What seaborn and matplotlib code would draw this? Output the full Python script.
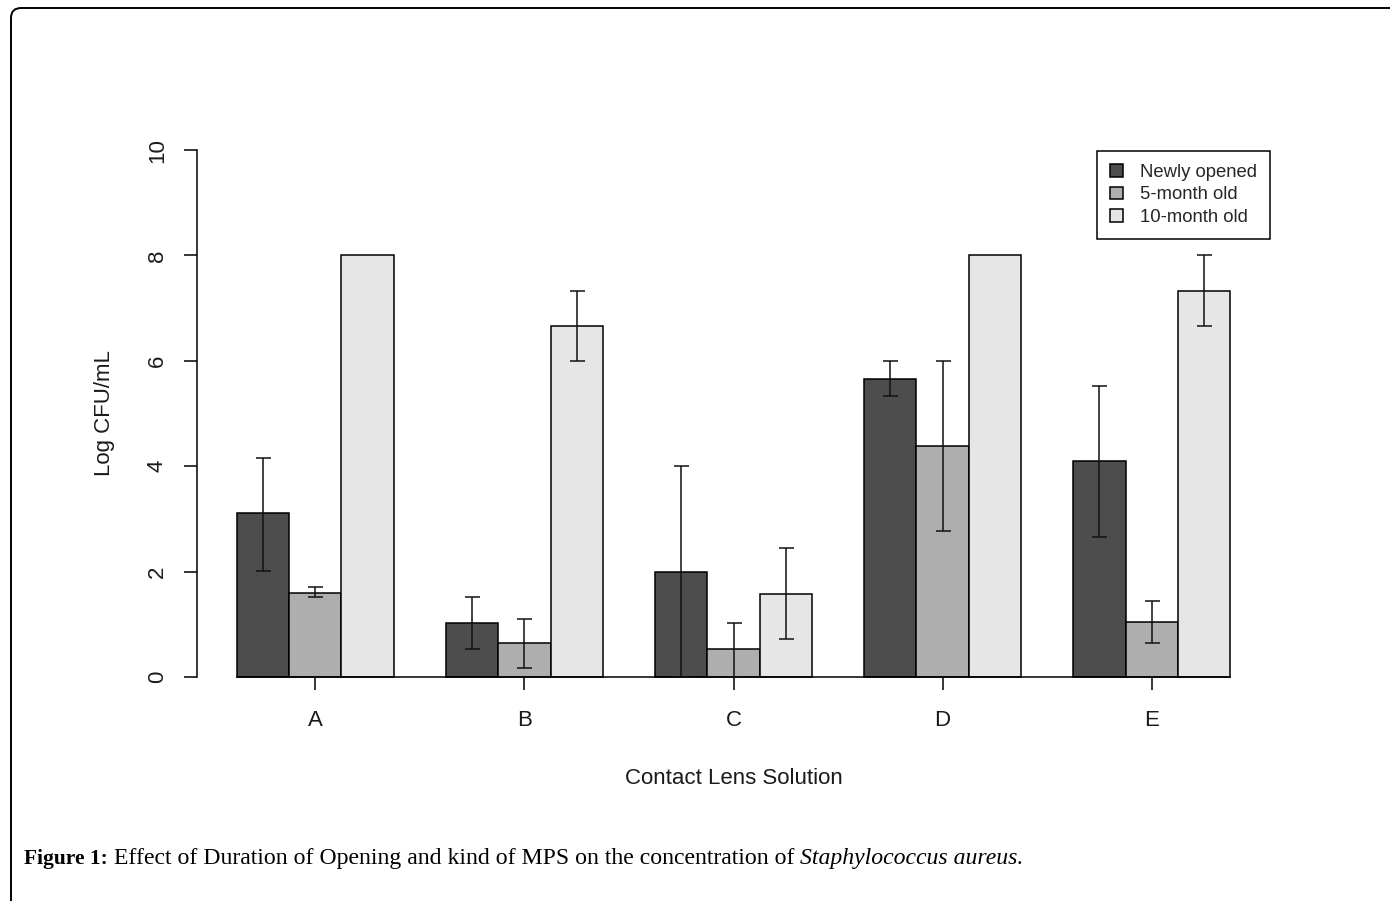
import numpy as np
import pandas as pd
import seaborn as sns
import matplotlib.pyplot as plt
from matplotlib.patches import FancyBboxPatch
from matplotlib.transforms import IdentityTransform

solutions = ["A", "B", "C", "D", "E"]
ages = ["Newly opened", "5-month old", "10-month old"]
colors = ["#4D4D4D", "#AEAEAE", "#E6E6E6"]

newly = [3.11, 1.02, 1.99, 5.65, 4.10]
newly_lo = [2.01, 0.53, 0.0, 5.33, 2.66]
newly_hi = [4.16, 1.52, 4.00, 6.00, 5.52]

month5 = [1.59, 0.65, 0.53, 4.38, 1.04]
month5_lo = [1.52, 0.17, 0.0, 2.77, 0.65]
month5_hi = [1.71, 1.10, 1.02, 6.00, 1.44]

month10 = [8.00, 6.66, 1.58, 8.00, 7.32]
month10_lo = [np.nan, 6.00, 0.72, np.nan, 6.66]
month10_hi = [np.nan, 7.32, 2.45, np.nan, 8.00]

sns.set_theme(style="ticks")
plt.rcParams["font.family"] = ["Liberation Sans", "DejaVu Sans"]

# long table for seaborn
df = pd.DataFrame({
    "Solution": solutions * 3,
    "Age": np.repeat(ages, len(solutions)),
    "Log CFU/mL": newly + month5 + month10,
})

fig = plt.figure(figsize=(13.9, 9.01), dpi=100)
ax = fig.add_axes([197 / 1390, 1 - 698 / 901, 1073 / 1390, 569 / 901])

sns.barplot(data=df, x="Solution", y="Log CFU/mL", hue="Age", order=solutions,
            hue_order=ages, palette=colors, saturation=1, width=0.75,
            edgecolor="black", linewidth=1.1, errorbar=None, ax=ax)

# asymmetric error bars
series = [(newly, newly_lo, newly_hi), (month5, month5_lo, month5_hi),
          (month10, month10_lo, month10_hi)]
for j, (vals, lo, hi) in enumerate(series):
    vals, lo, hi = np.array(vals), np.array(lo), np.array(hi)
    ok = ~np.isnan(lo)
    xs = np.arange(len(solutions))[ok] + (j - 1) * 0.25
    ax.errorbar(xs, vals[ok], yerr=[vals[ok] - lo[ok], hi[ok] - vals[ok]],
                fmt="none", ecolor="#111111", elinewidth=1.1, capsize=5.4,
                capthick=1.1, zorder=5)

ax.set_xlim(-0.566, 4.566)
ax.set_ylim(-0.4, 10.4)
ax.set_yticks(range(0, 11, 2))
ax.set_yticklabels([str(v) for v in range(0, 11, 2)], rotation=90, va="center")

for s in ["top", "right"]:
    ax.spines[s].set_visible(False)
ax.spines["left"].set_bounds(0, 10)
ax.spines["bottom"].set_position(("data", 0))
ax.spines["bottom"].set_bounds(-0.375, 4.375)
for s in ["left", "bottom"]:
    ax.spines[s].set_linewidth(1.1)
    ax.spines[s].set_color("black")

ax.tick_params(axis="both", direction="out", length=9.4, width=1.1,
               colors="black", labelsize=16, labelcolor="#1a1a1a")
ax.tick_params(axis="y", pad=11.5)
ax.tick_params(axis="x", pad=14.5)

ax.set_xlabel("Contact Lens Solution", fontsize=16, color="#1a1a1a")
ax.set_ylabel("Log CFU/mL", fontsize=16, color="#1a1a1a")
ax.xaxis.set_label_coords(0.5, -0.142)
ax.xaxis.label.set_va("center")
ax.yaxis.set_label_coords(-0.0865, 0.5)
ax.yaxis.label.set_va("center")

handles, labels = ax.get_legend_handles_labels()
ax.legend(handles, labels, loc="upper right",
          bbox_to_anchor=(1270 / 1390, 1 - 151 / 901),
          bbox_transform=fig.transFigure, borderaxespad=0,
          fontsize=13.3, frameon=True, fancybox=False, edgecolor="black",
          framealpha=1, handlelength=0.7, handleheight=0.7,
          handletextpad=0.9, labelspacing=0.28, borderpad=0.72, title=None)
ax.get_legend().get_frame().set_linewidth(1.1)

# rounded frame around the figure
frame = FancyBboxPatch((11, -60), 1500, 901 - 8 + 60,
                       boxstyle="round,pad=0,rounding_size=10",
                       transform=IdentityTransform(), fill=False,
                       edgecolor="black", linewidth=1.4)
fig.patches.append(frame)

# caption
renderer = fig.canvas.get_renderer()
cap_y = 1 - 864 / 901
x = 24 / 1390
parts = [("Figure 1:", "bold", "normal", 15.5),
         ("Effect of Duration of Opening and kind of MPS on the concentration of",
          "normal", "normal", 17.1),
         ("Staphylococcus aureus.", "normal", "italic", 17.1)]
for txt, weight, style, size in parts:
    t = fig.text(x, cap_y, txt, fontsize=size, family="Liberation Serif",
                 fontweight=weight, fontstyle=style, va="baseline", ha="left",
                 color="black")
    bb = t.get_window_extent(renderer)
    x = (bb.x1 + 6) / 1390

fig.savefig("out.png", dpi=100)
